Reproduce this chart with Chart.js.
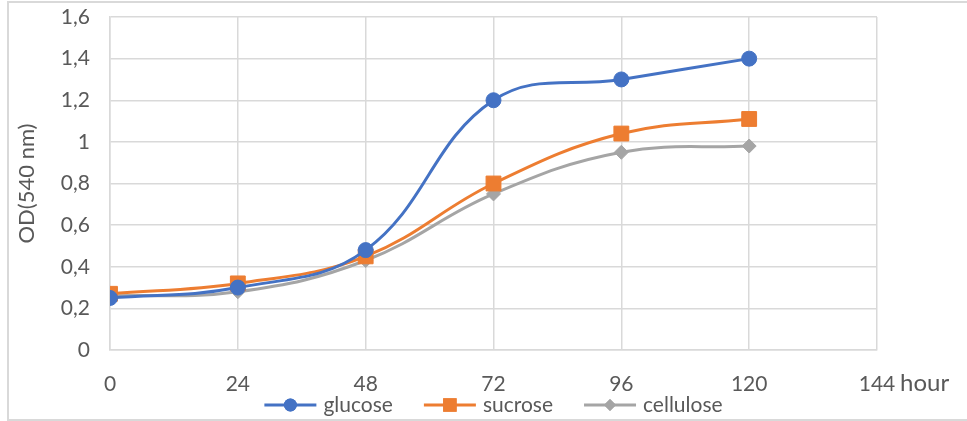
<!DOCTYPE html>
<html lang="en">
<head>
  <meta charset="UTF-8">
  <title>OD growth curve</title>
  <style>
    body {
      margin: 0;
      background: #fff;
    }
    .wrap {
      position: relative;
      width: 967px;
      height: 421px;
    }
    .frame {
      position: absolute;
      left: 7px;
      top: 1px;
      width: 960px;
      height: 416px;
      border: 2px solid #d9d9d9;
      border-right: none;
      pointer-events: none;
    }
  </style>
</head>
<body>
  <div class="wrap">
    <canvas id="chart" width="967" height="421"></canvas>
    <div class="frame"></div>
  </div>

  <script src="https://cdn.jsdelivr.net/npm/chart.js"></script>
  <script>
// data
const hours = [0, 24, 48, 72, 96, 120];
const glucose = [0.25, 0.30, 0.48, 1.20, 1.30, 1.40];
const sucrose = [0.27, 0.32, 0.45, 0.80, 1.04, 1.11];
const cellulose = [0.26, 0.28, 0.43, 0.75, 0.95, 0.98];
const seriesNames = ['glucose', 'sucrose', 'cellulose'];
const xTicks = [0, 24, 48, 72, 96, 120, 144];
const yTicks = [0, 0.2, 0.4, 0.6, 0.8, 1, 1.2, 1.4, 1.6];

const textColor = '#595959';
const gridColor = '#d9d9d9';
const fontName = 'Lato, "Open Sans", sans-serif';

const colors = ['#4472C4', '#ED7D31', '#A5A5A5'];
const markers = ['circle', 'rect', 'rectRot'];
const markerSizes = [7.5, 10.5, 7];

function toPoints(values) {
  return hours.map((h, i) => ({ x: h, y: values[i] }));
}

const allSeries = [glucose, sucrose, cellulose];
const datasets = allSeries.map((vals, i) => ({
  label: seriesNames[i],
  data: toPoints(vals),
  borderColor: colors[i],
  backgroundColor: colors[i],
  borderWidth: 3,
  tension: 0.4,
  pointStyle: markers[i],
  pointRadius: markerSizes[i],
  pointBorderWidth: 1,
  pointBorderColor: colors[i],
  pointBackgroundColor: colors[i]
}));

// "hour" unit after the last x tick, and an Excel-style legend (line + marker)
const extras = {
  id: 'extras',
  afterDraw(chart) {
    const g = chart.ctx;
    const area = chart.chartArea;
    const px = chart.scales.x.getPixelForValue(144);
    g.save();
    g.fillStyle = textColor;
    g.textBaseline = 'middle';
    g.font = '24px ' + fontName;
    g.fillText('hour', px + 23, 383);

    g.font = '21px ' + fontName;
    const iconW = 52, gapText = 7, gapItem = 31;
    const widths = chart.data.datasets.map(ds => iconW + gapText + g.measureText(ds.label).width);
    const total = widths.reduce((a, b) => a + b, 0) + gapItem * (widths.length - 1);
    let x = (area.left + area.right) / 2 - total / 2;
    const y = 405;
    chart.data.datasets.forEach((ds, i) => {
      g.strokeStyle = colors[i];
      g.lineWidth = 3;
      g.beginPath();
      g.moveTo(x, y);
      g.lineTo(x + iconW, y);
      g.stroke();
      g.fillStyle = colors[i];
      Chart.helpers.drawPoint(g, { pointStyle: markers[i], radius: markerSizes[i] - 1, rotation: 0, borderWidth: 0 }, x + iconW / 2, y);
      g.fill();
      g.fillStyle = textColor;
      g.fillText(ds.label, x + iconW + gapText, y);
      x += widths[i] + gapItem;
    });
    g.restore();
  }
};

const ctx = document.getElementById('chart').getContext('2d');
new Chart(ctx, {
  type: 'line',
  data: { datasets: datasets },
  plugins: [extras],
  options: {
    responsive: false,
    animation: false,
    layout: { padding: { top: 17, right: 90, left: 0, bottom: 27 } },
    plugins: {
      tooltip: { enabled: false },
      legend: { display: false }
    },
    scales: {
      x: {
        type: 'linear',
        min: 0,
        max: 144,
        afterBuildTicks(scale) {
          scale.ticks = xTicks.map(v => ({ value: v }));
        },
        afterFit(scale) {
          scale.height = 44;
        },
        grid: { color: gridColor, lineWidth: 1.5, drawTicks: false },
        border: { color: gridColor, width: 1.5 },
        ticks: {
          color: textColor,
          padding: 22,
          maxRotation: 0,
          font: { family: fontName, size: 21 }
        }
      },
      y: {
        min: 0,
        max: 1.6,
        afterBuildTicks(scale) {
          scale.ticks = yTicks.map(v => ({ value: v }));
        },
        afterFit(scale) {
          scale.width = 110;
          scale.paddingTop = 0;
          scale.paddingBottom = 0;
        },
        grid: { color: gridColor, lineWidth: 1.5, drawTicks: false },
        border: { color: gridColor, width: 1.5 },
        title: {
          display: true,
          text: 'OD(540 nm)',
          color: textColor,
          padding: { top: 14, bottom: 0 },
          font: { family: fontName, size: 22 }
        },
        ticks: {
          color: textColor,
          padding: 20,
          font: { family: fontName, size: 21 },
          callback: v => String(Math.round(v * 10) / 10).replace('.', ',')
        }
      }
    }
  }
});
  </script>
</body>
</html>
